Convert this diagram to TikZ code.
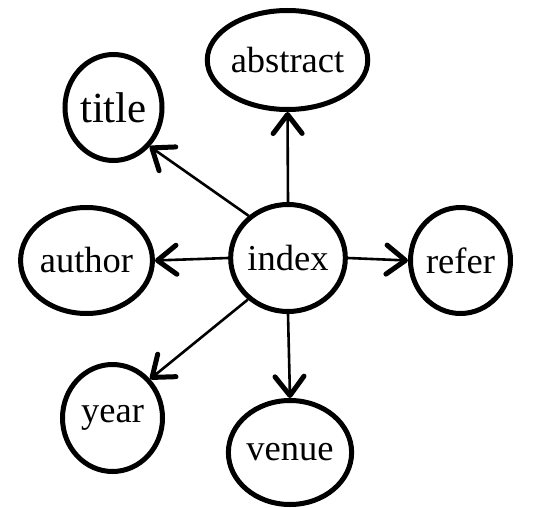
\documentclass[tikz,border=0pt]{standalone}
\usepackage{fontspec}
\setmainfont{Liberation Serif}
\usetikzlibrary{shapes.geometric,arrows.meta}
\begin{document}
\begin{tikzpicture}[x=1pt,y=-1pt,
  ent/.style={ellipse,draw,line width=5pt,inner sep=0pt,font=\fontsize{36.5}{40}\selectfont},
  conn/.style={line width=2.6pt,-{Straight Barb[length=19pt,width=29pt,line width=5pt,round]}}]
\useasboundingbox (0,0) rectangle (543,508);
\node[ent,minimum width=146pt,minimum height=99pt] (abstract) at (287.5,60) {abstract};
\node[ent,minimum width=97pt,minimum height=106pt,font=\fontsize{43}{46}\selectfont] (title) at (113.5,107.5) {title};
\node[ent,minimum width=99pt,minimum height=107pt] (index) at (288,258) {index};
\node[ent,minimum width=122pt,minimum height=106pt] (author) at (86.5,260.5) {author};
\node[ent,minimum width=100pt,minimum height=106pt] (refer) at (460.5,260.5) {refer};
\node[ent,minimum width=100pt,minimum height=107pt] (year) at (112.5,418) {year};
\node[ent,minimum width=121pt,minimum height=104pt] (venue) at (290,452.5) {venue};
\draw[conn] (index.north) -- (abstract.south);
\draw[conn] (index.133.5) -- (title.313.5);
\draw[conn] (index.west) -- (author.east);
\draw[conn] (index.east) -- (refer.west);
\draw[conn] (index.226.5) -- (year.46);
\draw[conn] (index.south) -- (venue.north);
\end{tikzpicture}
\end{document}
